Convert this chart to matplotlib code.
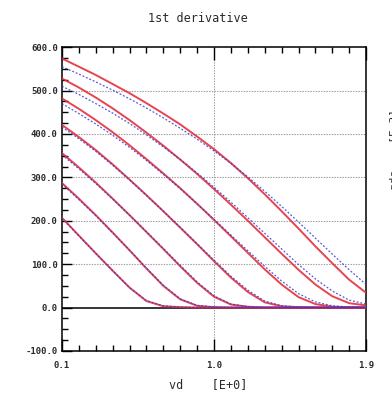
import numpy as np
import matplotlib
matplotlib.use("Agg")
import matplotlib.pyplot as plt
from matplotlib.ticker import FixedLocator, MultipleLocator, FormatStrFormatter

# drain voltage sweep [V]
vd = [0.1, 0.2, 0.3, 0.4, 0.5, 0.6, 0.7, 0.8, 0.9, 1.0,
      1.1, 1.2, 1.3, 1.4, 1.5, 1.6, 1.7, 1.8, 1.9]

# measured gds [E-3], one list per gate step
meas_1 = [207, 166, 125, 85, 46, 15, 3, 1, 0, 0, 0, 0, 0, 0, 0, 0, 0, 0, 0]
meas_2 = [287, 251, 213, 173, 132, 90, 50, 19, 4, 1, 0, 0, 0, 0, 0, 0, 0, 0, 0]
meas_3 = [356, 323, 288, 251, 213, 174, 135, 95, 57, 25, 7, 2, 0, 0, 0, 0, 0, 0, 0]
meas_4 = [421, 393, 363, 330, 295, 259, 222, 184, 146, 107, 69, 36, 12, 3, 1, 0, 0, 0, 0]
meas_5 = [482, 458, 432, 404, 374, 342, 309, 275, 239, 202, 164, 126, 88, 53, 24, 8, 2, 1, 0]
meas_6 = [528, 507, 484, 459, 432, 403, 373, 341, 308, 273, 237, 200, 162, 124, 87, 53, 26, 10, 5]
meas_7 = [574, 555, 536, 515, 494, 471, 447, 422, 394, 365, 333, 298, 261, 222, 182, 141, 102, 64, 34]

# simulated gds [E-3]
sim_1 = [206, 165, 125, 85, 46, 16, 4, 1, 0, 0, 0, 0, 0, 0, 0, 0, 0, 0, 0]
sim_2 = [285, 249, 212, 172, 132, 91, 51, 20, 5, 1, 0, 0, 0, 0, 0, 0, 0, 0, 0]
sim_3 = [352, 320, 286, 250, 213, 175, 136, 97, 59, 27, 8, 2, 0, 0, 0, 0, 0, 0, 0]
sim_4 = [416, 389, 360, 328, 294, 258, 222, 185, 147, 109, 72, 40, 15, 4, 1, 0, 0, 0, 0]
sim_5 = [470, 447, 423, 397, 369, 339, 307, 274, 239, 203, 167, 131, 95, 61, 32, 13, 4, 1, 0]
sim_6 = [510, 491, 470, 448, 424, 398, 370, 341, 310, 277, 243, 207, 171, 135, 99, 66, 38, 17, 8]
sim_7 = [555, 538, 520, 501, 481, 460, 437, 413, 388, 361, 332, 301, 268, 233, 197, 160, 123, 87, 53]

measured = [meas_1, meas_2, meas_3, meas_4, meas_5, meas_6, meas_7]
simulated = [sim_1, sim_2, sim_3, sim_4, sim_5, sim_6, sim_7]

x_ticks = [0.1, 1.0, 1.9]
y_ticks = [-100, 0, 100, 200, 300, 400, 500, 600]

mono = "DejaVu Sans Mono"
txt_color = "#2a2a2a"

fig = plt.figure(figsize=(3.92, 3.93), dpi=100)
ax = fig.add_axes([0.158, 0.107, 0.776, 0.773])

# dotted reference grid, solid zero line
for y in [100, 200, 300, 400, 500]:
    ax.axhline(y, color="#9a9a9a", lw=0.8, ls=(0, (1.2, 1.2)), zorder=1)
ax.axvline(1.0, color="#9a9a9a", lw=0.8, ls=(0, (1.2, 1.2)), zorder=1)
ax.axhline(0, color="black", lw=1.1, zorder=2)

for m in measured:
    ax.plot(vd, m, color="#e4303c", lw=1.4, zorder=3, alpha=0.9)
for s in simulated:
    ax.plot(vd, s, color="#3a3ad8", lw=0.9, ls=(0, (1.5, 1.5)), zorder=4, alpha=0.85)

ax.set_xlim(0.1, 1.9)
ax.set_ylim(-100, 600)

ax.xaxis.set_major_locator(FixedLocator(x_ticks))
ax.xaxis.set_minor_locator(MultipleLocator(0.1))
ax.xaxis.set_major_formatter(FormatStrFormatter("%.1f"))
ax.yaxis.set_major_locator(FixedLocator(y_ticks))
ax.yaxis.set_minor_locator(MultipleLocator(25))
ax.yaxis.set_major_formatter(FormatStrFormatter("%.1f"))

ax.tick_params(which="both", direction="in", top=True, right=False, width=1.0, color="black")
ax.tick_params(axis="x", which="major", length=9, pad=7)
ax.tick_params(axis="x", which="minor", length=4)
ax.tick_params(axis="y", which="major", length=7, pad=3)
ax.tick_params(axis="y", which="minor", length=4)

for lbl in ax.get_xticklabels() + ax.get_yticklabels():
    lbl.set_fontfamily(mono)
    lbl.set_fontsize(6.5)
    lbl.set_fontweight("bold")
    lbl.set_color(txt_color)

for sp in ax.spines.values():
    sp.set_linewidth(1.1)

fig.text(0.505, 0.952, "1st derivative", ha="center", va="center",
         family=mono, fontsize=8.5, color=txt_color)
fig.text(0.53, 0.022, "vd    [E+0]", ha="center", va="center",
         family=mono, fontsize=8.5, color=txt_color)
fig.text(0.995, 0.62, "gds    [E-3]", rotation=90, ha="left", va="center",
         family=mono, fontsize=8, color=txt_color)

fig.savefig("out.png", dpi=100)
